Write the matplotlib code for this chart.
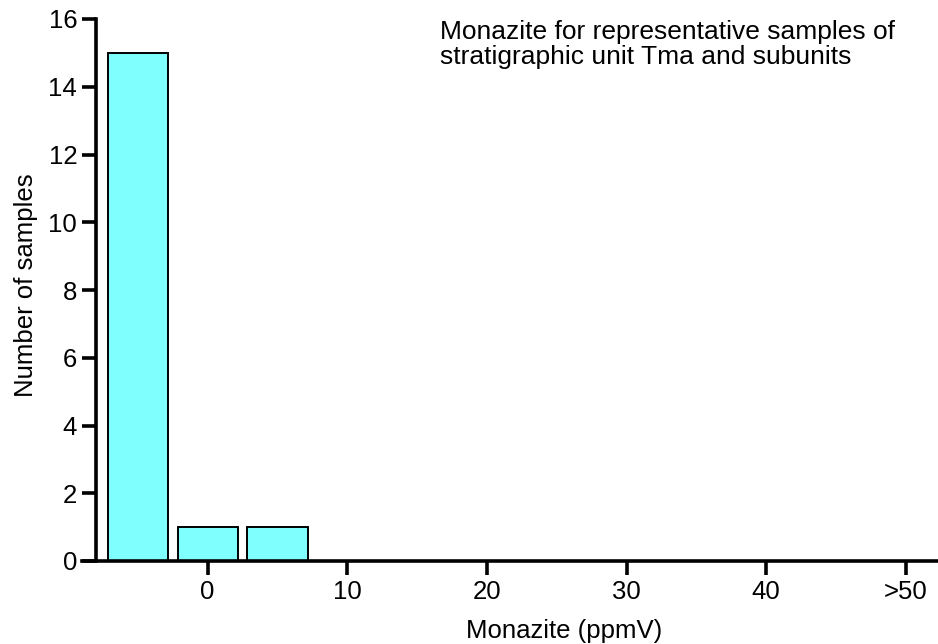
import matplotlib.pyplot as plt

# Histogramm-Daten: Bin-Mitten (ppmV) und Anzahl Proben
bin_centers = [-5, 0, 5, 10, 15, 20, 25, 30, 35, 40, 45, 50]
counts = [15, 1, 1, 0, 0, 0, 0, 0, 0, 0, 0, 0]

x_ticks = [0, 10, 20, 30, 40, 50]
x_tick_labels = ["0", "10", "20", "30", "40", ">50"]
y_ticks = [0, 2, 4, 6, 8, 10, 12, 14, 16]

plt.rcParams["font.family"] = ["Liberation Sans", "DejaVu Sans"]

W, H = 938, 644
fig = plt.figure(figsize=(W / 100, H / 100), dpi=100)
ax = fig.add_axes([82 / W, 83 / H, 1 - 82 / W, 542 / H])

ax.bar(bin_centers, counts, width=4.3, color="#80ffff",
       edgecolor="black", linewidth=1.4, zorder=1)

ax.set_xlim(-9, 52.3)
ax.set_ylim(0, 16)

# Prism-Stil: y-Achse bei x=-8, x-Achse reicht bis zur Tick-Länge nach links
ax.spines["left"].set_position(("data", -8))
ax.spines["top"].set_visible(False)
ax.spines["right"].set_visible(False)
for s in ("left", "bottom"):
    ax.spines[s].set_linewidth(2.6)
    ax.spines[s].set_zorder(3)

ax.set_xticks(x_ticks)
ax.set_xticklabels(x_tick_labels)
ax.set_yticks(y_ticks)
ax.tick_params(axis="both", length=10, width=2.6, labelsize=18.5, pad=3.5)

# Achsenbeschriftungen (Original ist rechts beschnitten, daher feste Positionen)
fig.text(26 / W, 1 - 285 / H, "Number of samples", fontsize=18.5,
         rotation=90, ha="center", va="center")
fig.text(564 / W, 1 - 638 / H, "Monazite (ppmV)", fontsize=18.5,
         ha="center", va="baseline")

fig.text(440 / W, 1 - 20 / H,
         "Monazite for representative samples of\nstratigraphic unit Tma and subunits",
         fontsize=19, va="top", ha="left", linespacing=1.06)

fig.savefig("out.png", dpi=100)
